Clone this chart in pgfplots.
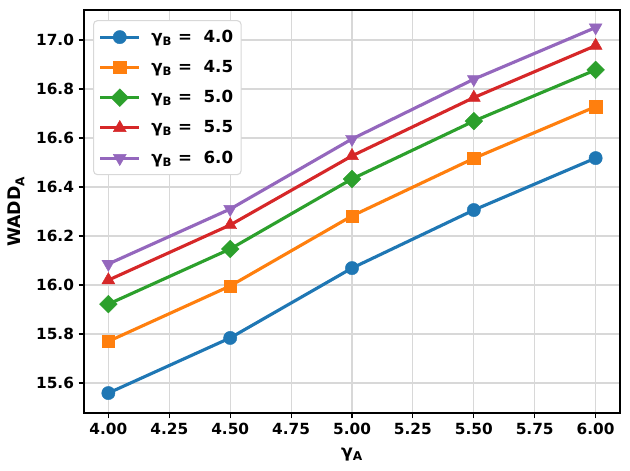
\documentclass[border=0pt]{standalone}
\usepackage{fontspec}
\setmainfont{DejaVu Sans}
\usepackage{pgfplots}
\pgfplotsset{compat=1.18}
\definecolor{tabblue}{HTML}{1F77B4}
\definecolor{taborange}{HTML}{FF7F0E}
\definecolor{tabgreen}{HTML}{2CA02C}
\definecolor{tabred}{HTML}{D62728}
\definecolor{tabpurple}{HTML}{9467BD}
\definecolor{gridgray}{RGB}{216,216,216}
\begin{document}
\begin{tikzpicture}
\begin{axis}[
  scale only axis, width=402pt, height=302.25pt,
  xmin=3.9, xmax=6.1, ymin=15.4776, ymax=17.1225,
  xtick={4,4.25,4.5,4.75,5,5.25,5.5,5.75,6},
  ytick={15.6,15.8,16.0,16.2,16.4,16.6,16.8,17.0},
  xticklabel style={/pgf/number format/fixed,/pgf/number format/fixed zerofill,/pgf/number format/precision=2},
  yticklabel style={/pgf/number format/fixed,/pgf/number format/fixed zerofill,/pgf/number format/precision=1},
  /pgf/number format/assume math mode=true,
  tick label style={font=\fontsize{11.5}{13}\selectfont\bfseries, black},
  tick pos=left, tick align=outside, major tick length=4pt,
  every tick/.style={black, line width=0.8pt},
  axis line style={line width=0.8pt},
  grid=major, major grid style={gridgray, line width=0.8pt},
  xlabel={γ\textsubscript{A}},
  ylabel={WADD\textsubscript{A}},
  label style={font=\fontsize{13}{15}\selectfont\bfseries},
  xlabel style={yshift=-3pt},
  ylabel style={yshift=2pt},
  legend cell align=left,
  legend image code/.code={\draw[mark repeat=2,mark phase=2] plot coordinates {(0pt,0pt) (14.5pt,0pt) (29pt,0pt)};},
  legend style={at={(0.0168,0.975)}, anchor=north west, draw=gridgray, line width=0.8pt,
    rounded corners=3pt, fill=white,
    font=\fontsize{12.5}{15}\selectfont\bfseries, row sep=8pt, column sep=6pt,
    inner xsep=4pt, inner ysep=5pt},
  every axis plot/.append style={line width=2.35pt},
]
\addplot[tabblue, mark=*, mark size=5pt, mark options={line width=0.3pt}] coordinates {(4,15.559) (4.5,15.784) (5,16.069) (5.5,16.306) (6,16.518)};
\addlegendentry{γ\textsubscript{B} =\ \ 4.0}
\addplot[taborange, mark=square*, mark size=4.6pt, mark options={line width=0.3pt}] coordinates {(4,15.77) (4.5,15.996) (5,16.282) (5.5,16.517) (6,16.728)};
\addlegendentry{γ\textsubscript{B} =\ \ 4.5}
\addplot[tabgreen, mark=square*, mark size=4.7pt, mark options={rotate=45, line width=0.3pt}] coordinates {(4,15.922) (4.5,16.147) (5,16.433) (5.5,16.669) (6,16.878)};
\addlegendentry{γ\textsubscript{B} =\ \ 5.0}
\addplot[tabred, mark=triangle*, mark size=5.6pt, mark options={line width=0.3pt}] coordinates {(4,16.02) (4.5,16.245) (5,16.527) (5.5,16.765) (6,16.977)};
\addlegendentry{γ\textsubscript{B} =\ \ 5.5}
\addplot[tabpurple, mark=triangle*, mark size=5.6pt, mark options={rotate=180, line width=0.3pt}] coordinates {(4,16.086) (4.5,16.31) (5,16.596) (5.5,16.84) (6,17.051)};
\addlegendentry{γ\textsubscript{B} =\ \ 6.0}
\end{axis}
\pgfresetboundingbox
\path[use as bounding box] ([shift={(-63pt,-42.75pt)}]current axis.south west) rectangle ([shift={(7.5pt,7.5pt)}]current axis.north east);
\end{tikzpicture}
\end{document}
